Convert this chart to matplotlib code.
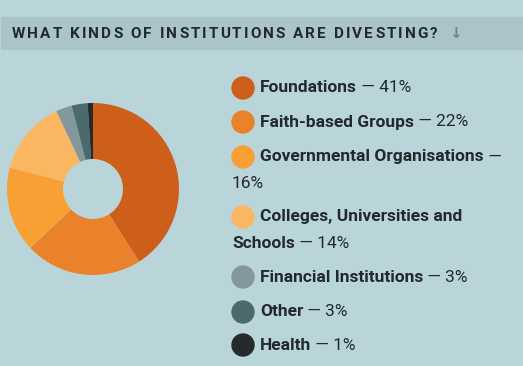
import matplotlib
matplotlib.use('Agg')
import matplotlib.pyplot as plt
from matplotlib.patches import Rectangle, Circle

labels = ['Foundations', 'Faith-based Groups', 'Governmental Organisations',
          'Colleges, Universities and', 'Financial Institutions', 'Other', 'Health']
pcts = [41, 22, 16, 14, 3, 3, 1]
colors = ['#cd5f1a', '#e9822a', '#f9a035', '#fbb661', '#84979b', '#4a6a6b', '#252a2c']
title = 'WHAT KINDS OF INSTITUTIONS ARE DIVESTING?'

BG = '#bad5da'
BAND = '#abc4c9'
INK = '#22292c'

W, H = 523, 366
fig = plt.figure(figsize=(W / 100, H / 100), dpi=100, facecolor=BG)

# overlay in pixel coords, y down
ov = fig.add_axes([0, 0, 1, 1])
ov.set_xlim(0, W)
ov.set_ylim(H, 0)
ov.axis('off')
ov.add_patch(Rectangle((1, 17), W, 32, color=BAND, zorder=0))

# title with letter spacing
prev = ov.text(12, 33.5, title[0], fontsize=11, fontweight='bold', color=INK,
               family='Roboto', va='center', ha='left')
for ch in title[1:]:
    prev = ov.annotate(ch, xy=(1, 0), xycoords=prev, xytext=(1.5, 0),
                       textcoords='offset points', fontsize=11, fontweight='bold',
                       color=INK, family='Roboto', va='bottom', ha='left')
ov.text(455, 33, '↓', fontsize=11, color='#6f8387', family='DejaVu Sans',
        va='center', ha='center', fontweight='bold')

# donut
cx, cy, r = 93, 189, 86
pax = fig.add_axes([(cx - r) / W, (H - cy - r) / H, 2 * r / W, 2 * r / H])
pax.pie(pcts, colors=colors, startangle=90, counterclock=False,
        wedgeprops=dict(width=1 - 30 / 86, linewidth=0))
pax.set_xlim(-1, 1)
pax.set_ylim(-1, 1)
pax.set_aspect('equal')
pax.axis('off')

# legend
rows = [88, 122, 157, 217, 277, 312, 345]
FS = 12.5
for lab, p, c, y in zip(labels, pcts, colors, rows):
    ov.add_patch(Circle((243, y), 11, color=c, zorder=2))
    t = ov.text(260, y, lab, fontsize=FS, fontweight='bold', color=INK,
                family='Roboto', va='center', ha='left')
    suffix = ' — %d%%' % p
    if lab.startswith('Governmental'):
        ov.annotate(' —', xy=(1, 0), xycoords=t, fontsize=FS, color=INK,
                    family='Roboto', va='bottom', ha='left')
        ov.text(232, 183, '%d%%' % p, fontsize=FS, color=INK, family='Roboto',
                va='center', ha='left')
    elif lab.startswith('Colleges'):
        t2 = ov.text(232, 243, 'Schools', fontsize=FS, fontweight='bold', color=INK,
                     family='Roboto', va='center', ha='left')
        ov.annotate(suffix, xy=(1, 0), xycoords=t2, fontsize=FS, color=INK,
                    family='Roboto', va='bottom', ha='left')
    else:
        ov.annotate(suffix, xy=(1, 0), xycoords=t, fontsize=FS, color=INK,
                    family='Roboto', va='bottom', ha='left')

fig.savefig('out.png', dpi=100, facecolor=BG)
